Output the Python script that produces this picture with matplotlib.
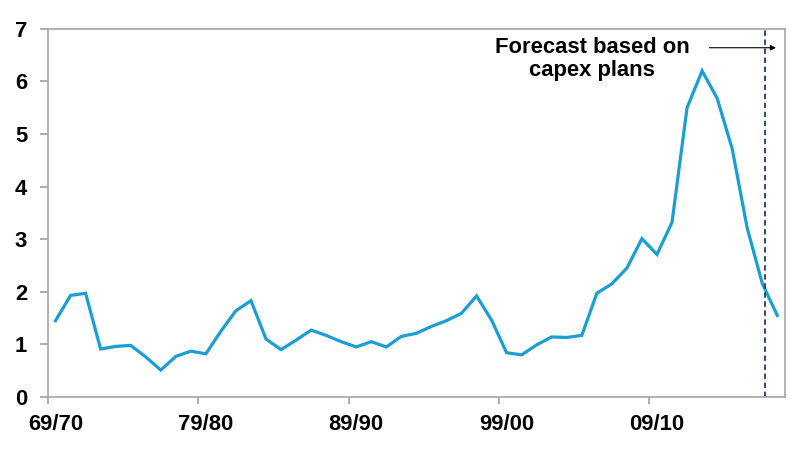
import numpy as np
import matplotlib
matplotlib.use('Agg')
import matplotlib.pyplot as plt

plt.rcParams['font.family'] = ['Liberation Sans', 'DejaVu Sans']

# financial years 69/70 .. 17/18
years = ['%02d/%02d' % (y % 100, (y + 1) % 100) for y in range(1969, 2018)]
values = [1.45, 1.93, 1.97, 0.91, 0.96, 0.98, 0.76, 0.51, 0.77, 0.87,
          0.82, 1.25, 1.64, 1.83, 1.10, 0.90, 1.08, 1.27, 1.17, 1.05,
          0.95, 1.05, 0.95, 1.15, 1.21, 1.34, 1.45, 1.59, 1.92, 1.46,
          0.84, 0.80, 0.99, 1.14, 1.13, 1.17, 1.97, 2.15, 2.45, 3.01,
          2.71, 3.32, 5.50, 6.20, 5.68, 4.72, 3.21, 2.16, 1.55]
forecast_start = 47.2
label_every = 10

x = np.arange(len(years))

fig = plt.figure(figsize=(8, 4.5), dpi=100)
ax = fig.add_axes([0.06, 0.118, 0.921, 0.818])

ax.plot(x, values, color='#1a9ed4', lw=2.3, solid_joinstyle='miter')
ax.axvline(forecast_start, color='#1f3c6e', lw=1.3, ls=(0, (3, 2)))

ax.set_xlim(-0.5, len(years) - 0.5)
ax.set_ylim(0, 7)
ax.set_yticks(range(0, 8))

# tick marks on category boundaries, labels on category centres
ax.set_xticks(np.arange(-0.5, len(years) - 1, label_every))
ax.set_xticklabels([])
ax.set_xticks(x[::label_every], minor=True)
ax.set_xticklabels(years[::label_every], minor=True)
ax.tick_params(axis='x', which='major', length=5, color='#a0a0a0', width=1.2)
ax.tick_params(axis='x', which='minor', length=0, pad=12, labelsize=15.8)
ax.tick_params(axis='y', length=6, color='#a0a0a0', width=1.2, pad=9, labelsize=15.8)
for lab in ax.get_xticklabels(minor=True) + ax.get_yticklabels():
    lab.set_fontweight('bold')

for s in ax.spines.values():
    s.set_color('#a6a6a6')
    s.set_linewidth(1.2)

ax.text(35.7, 6.42, 'Forecast based on\ncapex plans', ha='center', va='center',
        fontsize=15.8, fontweight='bold', linespacing=1.1)
ax.annotate('', xy=(48.1, 6.64), xytext=(43.3, 6.64),
            arrowprops=dict(arrowstyle='-|>', color='black', lw=0.8,
                            mutation_scale=8))

fig.savefig('out.png', dpi=100)
